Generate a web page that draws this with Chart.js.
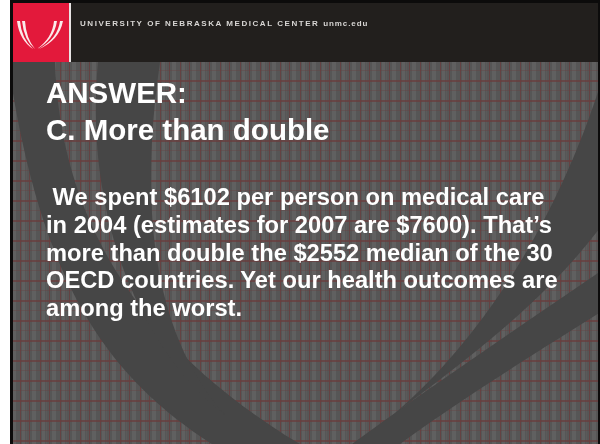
<!DOCTYPE html>
<html>
<head>
<meta charset="utf-8">
<script src="https://cdn.jsdelivr.net/npm/chart.js@4.4.1/dist/chart.umd.min.js"></script>
<style>
  html, body { margin: 0; padding: 0; background: #ffffff; }
  #wrap { position: relative; width: 600px; height: 444px; overflow: hidden; }
  #c { position: absolute; left: 0; top: 0; }
  .hdr { position: absolute; left: 80px; top: 19px; font: bold 8px "Liberation Sans", Arial, sans-serif; letter-spacing: 1.55px; color: #d8d6d4; white-space: nowrap; }
  .hdr .url { letter-spacing: 0.9px; }
  .ttl { position: absolute; left: 46px; top: 74.3px; font: bold 29.5px "Liberation Sans", Arial, sans-serif; line-height: 37px; color: #ffffff; white-space: nowrap; }
  .txt { position: absolute; left: 46px; top: 184px; font: bold 23.7px "Liberation Sans", Arial, sans-serif; line-height: 27.75px; color: #ffffff; white-space: nowrap; }
</style>
</head>
<body>
<div id="wrap">
  <canvas id="c" width="600" height="444"></canvas>
  <div class="hdr">UNIVERSITY OF NEBRASKA MEDICAL CENTER <span class="url">unmc.edu</span></div>
  <div class="ttl" id="ttl"></div>
  <div class="txt" id="txt"></div>
</div>
<script>
// ---- data ----
const answerLines = ["ANSWER:", "C. More than double"];
const years = [2004, 2007];
const spendingPerPerson = [6102, 7600];   // US $ per person (2004 actual, 2007 estimate)
const oecdMedian = [2552];                // $ median of OECD countries
const oecdCountries = [30];

// ---- text built from data ----
document.getElementById('ttl').innerHTML = answerLines.join('<br>');
const lines = [
  "&nbsp;We spent $" + spendingPerPerson[0] + " per person on medical care",
  "in " + years[0] + " (estimates for " + years[1] + " are $" + spendingPerPerson[1] + "). That\u2019s",
  "more than double the $" + oecdMedian[0] + " median of the " + oecdCountries[0],
  "OECD countries. Yet our health outcomes are",
  "among the worst."
];
document.getElementById('txt').innerHTML = lines.join('<br>');

// ---- background painter plugin ----
function makePlaid() {
  const p = document.createElement('canvas');
  p.width = 20; p.height = 20;
  const g = p.getContext('2d');
  g.fillStyle = '#565656'; g.fillRect(0, 0, 20, 20);
  g.fillStyle = '#606060'; g.fillRect(2, 0, 3, 20); g.fillRect(12, 0, 4, 20);
  g.fillStyle = '#5c5a5a'; g.fillRect(6, 0, 1, 20);
  g.fillStyle = 'rgba(105,62,62,0.75)'; g.fillRect(0, 0, 1, 20); g.fillRect(9, 0, 1, 20);
  g.fillStyle = 'rgba(105,62,62,0.75)'; g.fillRect(0, 0, 20, 2);
  g.fillStyle = 'rgba(105,62,62,0.35)'; g.fillRect(0, 10, 20, 1);
  return p;
}

const slideBg = {
  id: 'slideBg',
  beforeDraw(chart) {
    const ctx = chart.ctx;
    ctx.save();
    ctx.fillStyle = '#ffffff'; ctx.fillRect(0, 0, 600, 444);
    ctx.fillStyle = '#0c0b0b'; ctx.fillRect(10, 0, 590, 444);
    ctx.fillStyle = ctx.createPattern(makePlaid(), 'repeat');
    ctx.fillRect(13, 62, 585, 382);
    ctx.save();
    ctx.beginPath(); ctx.rect(13, 62, 585, 382); ctx.clip();
    ctx.fillStyle = '#464646';
    // left outer band
    ctx.beginPath();
    ctx.moveTo(0, 62); ctx.lineTo(55, 62);
    ctx.bezierCurveTo(60, 215, 135, 345, 300, 444);
    ctx.lineTo(212, 444);
    ctx.bezierCurveTo(105, 375, 40, 280, 8, 62);
    ctx.closePath(); ctx.fill();
    // left inner band
    ctx.beginPath();
    ctx.moveTo(98, 62); ctx.lineTo(160, 62);
    ctx.bezierCurveTo(140, 200, 150, 330, 225, 415);
    ctx.bezierCurveTo(130, 340, 85, 200, 98, 62);
    ctx.closePath(); ctx.fill();
    // right outer band
    ctx.beginPath();
    ctx.moveTo(352, 444);
    ctx.bezierCurveTo(440, 380, 530, 320, 620, 258);
    ctx.lineTo(620, 300);
    ctx.bezierCurveTo(540, 350, 460, 400, 400, 444);
    ctx.closePath(); ctx.fill();
    // right inner band
    ctx.beginPath();
    ctx.moveTo(393, 415);
    ctx.bezierCurveTo(470, 350, 555, 235, 605, 70);
    ctx.lineTo(620, 200);
    ctx.bezierCurveTo(560, 290, 480, 350, 393, 415);
    ctx.closePath(); ctx.fill();
    ctx.restore();
    // header band
    ctx.fillStyle = '#221f1d'; ctx.fillRect(13, 3, 585, 59);
    ctx.fillStyle = '#e3193b'; ctx.fillRect(13, 3, 56, 59);
    ctx.fillStyle = '#e8e4e4'; ctx.fillRect(69, 3, 2, 59);
    // logo swooshes
    ctx.fillStyle = '#fbeaea';
    function sw(x0, x1, xt, yt) {
      ctx.beginPath();
      ctx.moveTo(x0, 21);
      ctx.quadraticCurveTo(x0 + (xt - x0) * 0.15, 40, xt, yt);
      ctx.quadraticCurveTo(x1 + (xt - x1) * 0.1, 38, x1, 21);
      ctx.closePath(); ctx.fill();
    }
    sw(17, 20, 33, 49); sw(22, 25, 35, 49);
    sw(63, 60, 39, 49); sw(57, 54, 37, 49);
    ctx.restore();
  }
};

new Chart(document.getElementById('c'), {
  type: 'bar',
  data: { labels: [], datasets: [] },
  options: {
    responsive: false,
    animation: false,
    events: [],
    layout: { padding: 0 },
    plugins: { legend: { display: false }, tooltip: { enabled: false }, title: { display: false } },
    scales: { x: { display: false }, y: { display: false } }
  },
  plugins: [slideBg]
});
</script>
</body>
</html>
